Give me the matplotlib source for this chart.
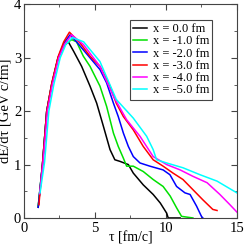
import matplotlib
matplotlib.use("Agg")
import matplotlib.pyplot as plt
from matplotlib.ticker import MultipleLocator

labels = ["x = 0.0 fm", "x = -1.0 fm", "x = -2.0 fm", "x = -3.0 fm", "x = -4.0 fm", "x = -5.0 fm"]
colors = ["black", "#00e000", "#0000ff", "#ff0000", "#ff00ff", "#00ffff"]

tau0 = [1.0, 1.3, 1.6, 1.95, 2.4, 2.8, 3.12, 3.5, 4.06, 4.65, 5.12, 5.59, 6.06, 6.4, 6.76, 7.35, 7.7, 8.4, 9.1, 9.6, 10.05, 10.16, 11.0]
e0 = [0.2, 1.0, 2.0, 2.5, 3.0, 3.22, 3.3, 3.12, 2.84, 2.47, 2.15, 1.72, 1.28, 1.09, 1.06, 1.0, 0.84, 0.62, 0.44, 0.28, 0.09, 0.0, 0.0]

tau1 = [1.0, 1.3, 1.6, 1.95, 2.4, 2.8, 3.36, 3.7, 4.18, 4.65, 5.35, 5.82, 6.3, 6.64, 7.0, 7.23, 7.7, 8.4, 9.1, 9.8, 10.3, 10.75, 11.1, 11.9]
e1 = [0.22, 1.0, 2.0, 2.5, 3.0, 3.24, 3.34, 3.3, 3.03, 2.84, 2.47, 2.09, 1.59, 1.34, 1.12, 0.97, 0.97, 0.87, 0.72, 0.59, 0.41, 0.19, 0.03, 0.0]

tau2 = [1.0, 1.3, 1.6, 1.95, 2.4, 2.8, 3.24, 3.7, 4.65, 5.35, 5.82, 6.3, 6.64, 7.0, 7.35, 7.7, 8.17, 8.87, 9.8, 10.28, 10.75, 11.34, 11.7, 12.16, 12.5, 12.6]
e2 = [0.2, 1.0, 2.0, 2.5, 3.0, 3.27, 3.43, 3.3, 3.0, 2.78, 2.53, 2.15, 1.9, 1.59, 1.34, 1.15, 1.03, 0.97, 0.9, 0.81, 0.59, 0.47, 0.44, 0.22, 0.03, 0.0]

tau3 = [1.05, 1.3, 1.6, 1.95, 2.4, 2.8, 3.2, 3.94, 4.65, 5.35, 6.06, 6.5, 7.0, 7.7, 8.4, 9.1, 9.8, 10.5, 11.2, 11.9, 12.6, 13.3, 13.6]
e3 = [0.25, 1.0, 2.0, 2.52, 3.02, 3.3, 3.48, 3.28, 3.03, 2.84, 2.47, 2.15, 1.9, 1.65, 1.34, 1.09, 0.97, 0.84, 0.72, 0.53, 0.34, 0.16, 0.14]

tau4 = [1.1, 1.35, 1.65, 2.0, 2.45, 2.85, 3.36, 4.18, 5.35, 6.3, 7.23, 8.17, 9.1, 10.05, 11.0, 11.9, 12.9, 13.8, 14.5, 15.0]
e4 = [0.45, 1.05, 2.0, 2.5, 3.0, 3.25, 3.43, 3.25, 2.84, 2.28, 1.84, 1.53, 1.15, 1.0, 0.9, 0.78, 0.66, 0.44, 0.25, 0.11]

tau5 = [1.13, 1.45, 1.75, 2.1, 2.55, 2.95, 3.4, 4.2, 5.35, 6.5, 7.7, 8.64, 9.1, 9.34, 10.05, 11.2, 12.4, 13.6, 15.0]
e5 = [0.47, 1.05, 2.0, 2.5, 3.0, 3.25, 3.38, 3.3, 2.93, 2.22, 1.87, 1.53, 1.28, 1.09, 1.03, 0.94, 0.81, 0.69, 0.47]

taus = [tau0, tau1, tau2, tau3, tau4, tau5]
es = [e0, e1, e2, e3, e4, e5]

serif = "Liberation Serif"
fig = plt.figure(figsize=(2.45, 2.46), dpi=100)
ax = fig.add_axes([0.098, 0.114, 0.869, 0.868])
for t, e, c, l in zip(taus, es, colors, labels):
    ax.plot(t, e, color=c, lw=1.1, label=l)

ax.set_xlim(0, 15)
ax.set_ylim(0, 4)
ax.xaxis.set_major_locator(MultipleLocator(5))
ax.xaxis.set_minor_locator(MultipleLocator(2.5))
ax.yaxis.set_major_locator(MultipleLocator(1))
ax.yaxis.set_minor_locator(MultipleLocator(0.5))
ax.tick_params(which="both", direction="in", top=True, right=True, color="#444444")
ax.tick_params(which="major", length=4, labelsize=10.5, pad=2)
ax.tick_params(which="minor", length=2)
ax.tick_params(axis="x", which="major", pad=3)
for lab in ax.get_xticklabels() + ax.get_yticklabels():
    lab.set_family(serif)
for s in ax.spines.values():
    s.set_color("#444444")
ax.set_xlabel("τ [fm/c]", family=serif, fontsize=10)
ax.xaxis.set_label_coords(0.5, -0.108)
ax.xaxis.label.set_va("baseline")
ax.set_ylabel("dE/dτ [GeV c/fm]", family=serif, fontsize=10.5, labelpad=1)

leg = ax.legend(loc="upper left", bbox_to_anchor=(0.498, 0.927), prop={"family": serif, "size": 9},
                fancybox=False, edgecolor="#444444", framealpha=1, borderpad=0.25, labelspacing=0.02,
                handlelength=1.1, handletextpad=0.45, borderaxespad=0)
leg.get_frame().set_linewidth(0.8)
fig.savefig("out.png", dpi=100)
